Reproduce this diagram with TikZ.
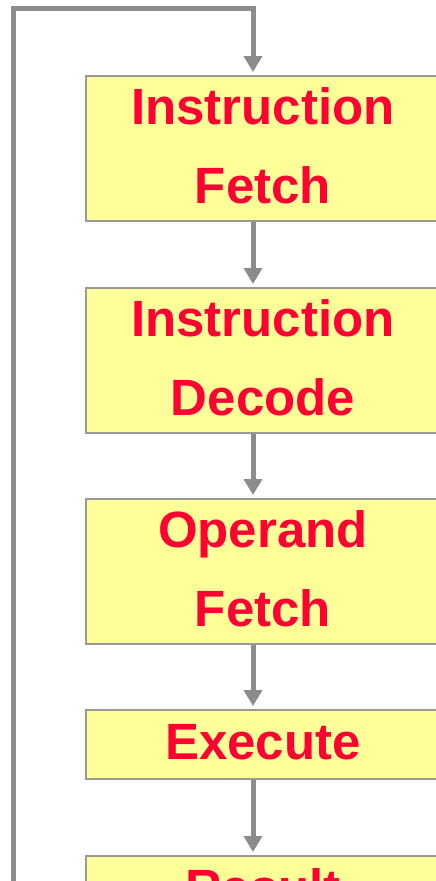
\documentclass[tikz,border=0pt]{standalone}
\usepackage{fontspec}
\setmainfont{Liberation Sans}
\usetikzlibrary{positioning}
\usetikzlibrary{arrows.meta}

\definecolor{stagefill}{HTML}{FFFF99}
\definecolor{stageline}{HTML}{999999}
\definecolor{flowline}{HTML}{8C8C8C}
\definecolor{stagetext}{HTML}{FF0033}

\tikzset{
  stage/.style={draw=stageline,fill=stagefill,line width=2pt,
    minimum width=354pt,inner sep=0pt,align=center,text=stagetext,
    text depth=6pt,font=\bfseries\fontsize{51}{79}\selectfont},
  flow/.style={draw=flowline,line width=5pt,
    -{Triangle[width=18pt,length=16pt]},shorten >=3pt}
}

\begin{document}
\begin{tikzpicture}[x=1pt,y=-1pt]
            \useasboundingbox (0,0) rectangle (436,881);
            \clip (0,0) rectangle (436,881);
            \node[stage,minimum height=145pt] (fetch) at (263,148.5) {Instruction\\Fetch};
            \node[stage,minimum height=145pt] (decode) at (263,360.5) {Instruction\\Decode};
            \node[stage,minimum height=145pt] (operand) at (263,571.5) {Operand\\Fetch};
            \node[stage,minimum height=69pt] (execute) at (263,744.5) {Execute};
            \node[stage,minimum height=69pt] (result) at (263,890.5) {Result};
            \coordinate (loopstart) at (13,890);
            \draw[flow] ([xshift=-10pt]fetch.south) -- ([xshift=-10pt]decode.north);
            \draw[flow] ([xshift=-10pt]decode.south) -- ([xshift=-10pt]operand.north);
            \draw[flow] ([xshift=-10pt]operand.south) -- ([xshift=-10pt]execute.north);
            \draw[flow] ([xshift=-10pt]execute.south) -- ([xshift=-10pt]result.north);
            \draw[flow] (loopstart) |- (253,8) -- ([xshift=-10pt]fetch.north);
        \end{tikzpicture}
\end{document}
